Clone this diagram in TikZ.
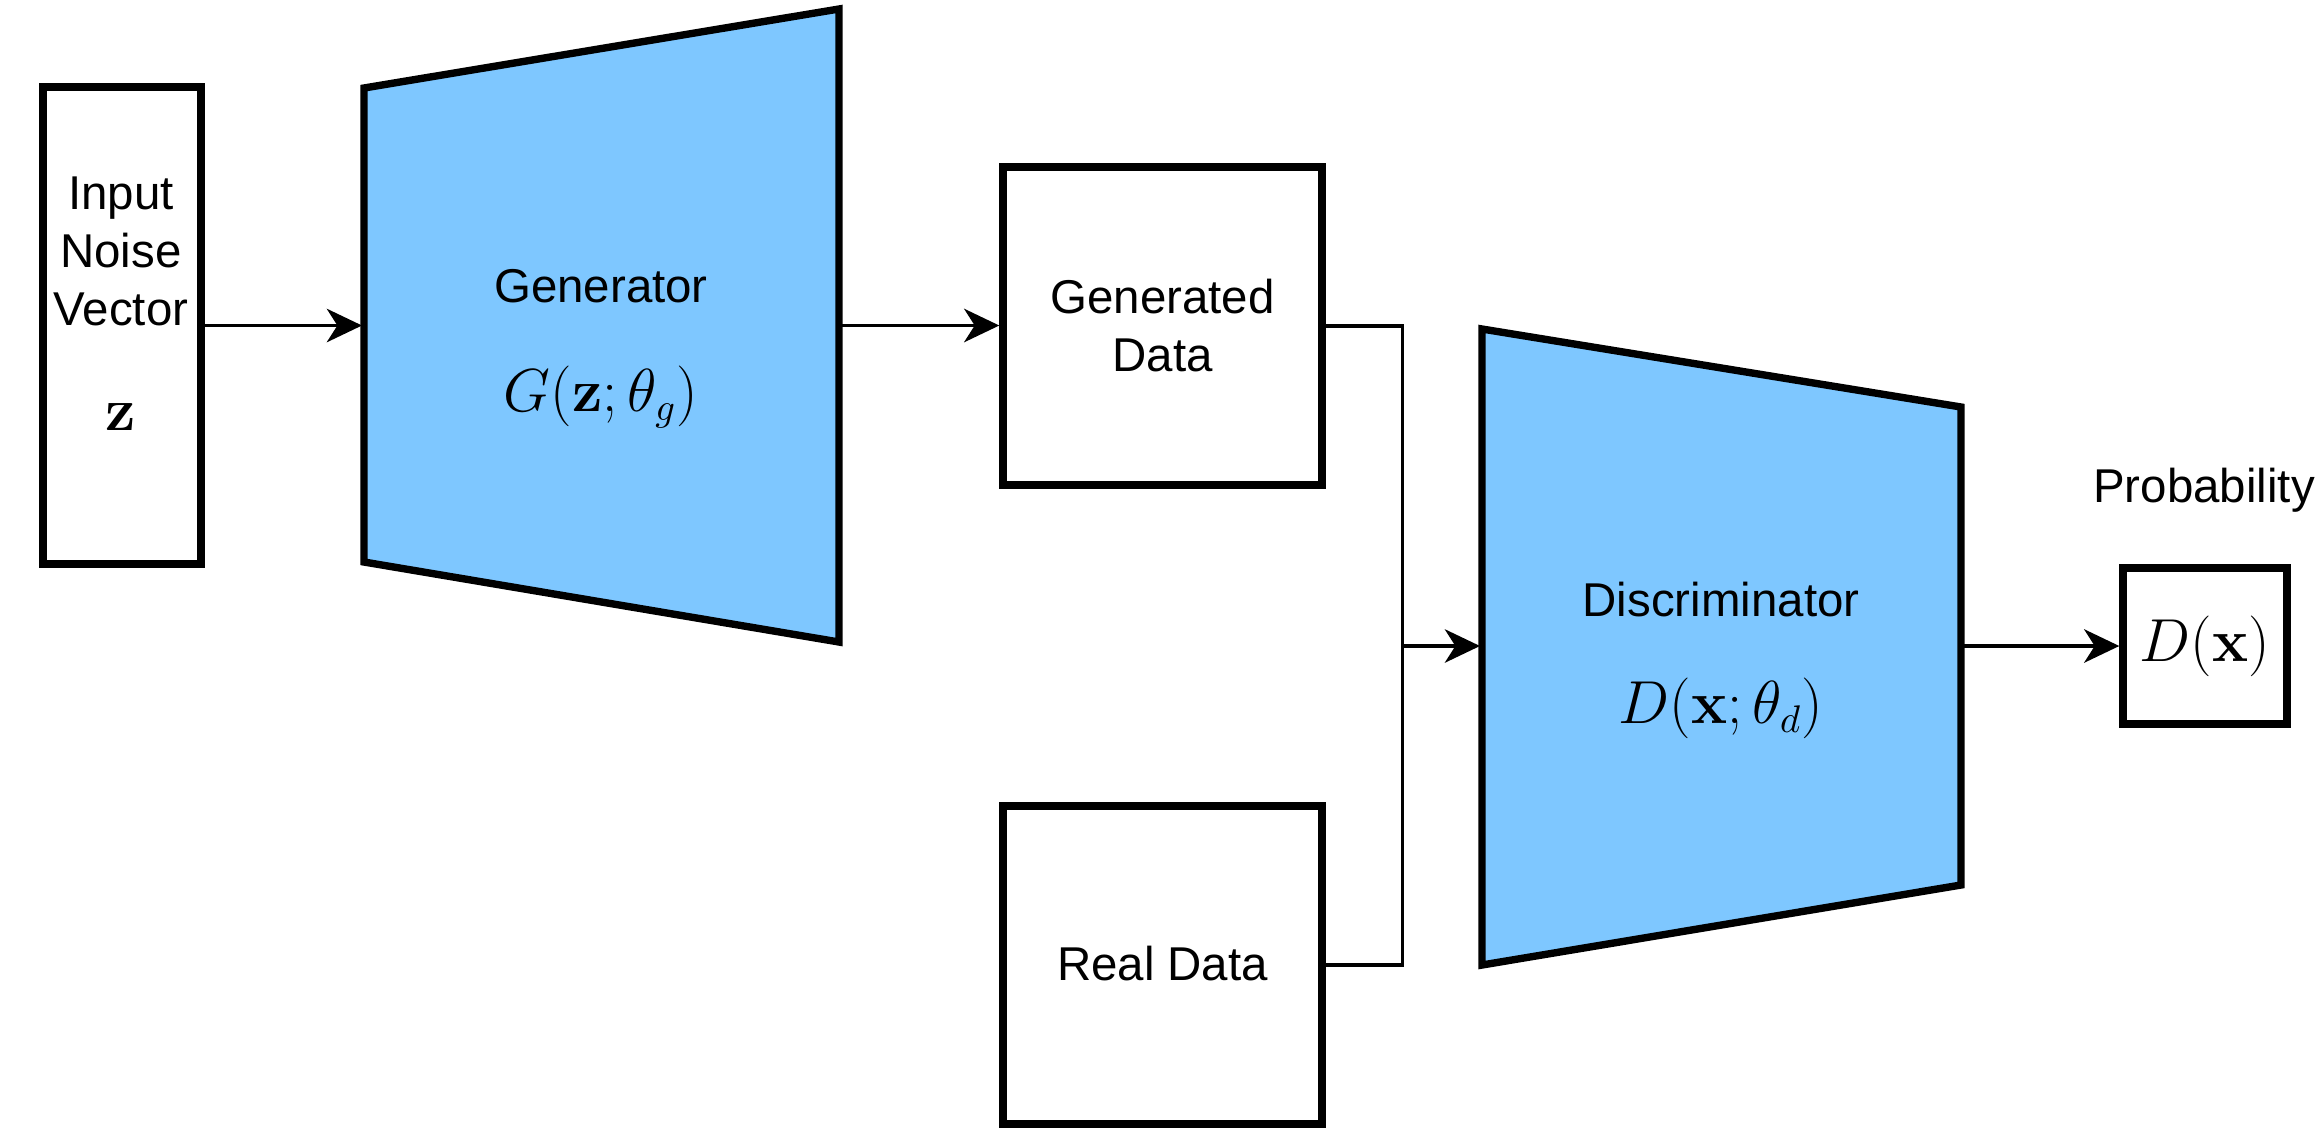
\documentclass[tikz,border=0pt]{standalone}
\usepackage{amsmath}
\usepackage[no-math]{fontspec}
\setmainfont{Liberation Sans}
\usepackage{tikz}
\usetikzlibrary{arrows.meta}

\definecolor{netblue}{RGB}{126,199,255}

\begin{document}
\begin{tikzpicture}[
  box/.style={draw, line width=2.1pt, inner sep=0pt},
  net/.style={draw, line width=2.1pt, fill=netblue, line join=miter},
  conn/.style={line width=1.1pt, -{Stealth[length=10pt, width=9.5pt, inset=3pt]}},
  wire/.style={line width=1.1pt},
  lbl/.style={font=\fontsize{13.5}{16.5}\selectfont, align=center},
  mth/.style={font=\fontsize{16}{19}\selectfont}]

\useasboundingbox (0,0) rectangle (23.2,-11.28);

\node [box, minimum width=1.58cm, minimum height=4.77cm] (noise) at (1.22,-3.255) {};
\node [lbl] (noisetxt) at (1.21,-2.51) {Input\\Noise\\Vector};
\node [mth] (z) at (1.21,-4.17) {$\mathbf{z}$};

\draw[net] (3.64,-0.88) to (8.39,-0.09) to (8.39,-6.42) to (3.64,-5.62) to cycle;
\coordinate (gen-w) at (3.62,-3.255);
\coordinate (gen-e) at (8.39,-3.255);
\node [lbl] (gentxt) at (6.01,-2.86) {Generator};
\node [mth] (genfn) at (6.01,-3.97) {$G(\mathbf{z};\theta_g)$};

\node [box, minimum width=3.19cm, minimum height=3.18cm] (gendata) at (11.625,-3.26) {};
\node [lbl] (gendatatxt) at (11.625,-3.26) {Generated\\Data};
\node [box, minimum width=3.19cm, minimum height=3.18cm] (realdata) at (11.625,-9.65) {};
\node [lbl] (realdatatxt) at (11.625,-9.64) {Real Data};

\draw[net] (14.82,-3.29) to (19.61,-4.07) to (19.61,-8.85) to (14.82,-9.65) to cycle;
\coordinate (disc-w) at (14.80,-6.46);
\coordinate (disc-e) at (19.61,-6.46);
\coordinate (merge) at (14.025,-6.46);
\node [lbl] (disctxt) at (17.21,-6.0) {Discriminator};
\node [mth] (discfn) at (17.21,-7.08) {$D(\mathbf{x};\theta_d)$};

\node [box, minimum width=1.64cm, minimum height=1.56cm, mth] (prob) at (22.05,-6.46) {$D(\mathbf{x})$};
\node [lbl] (probtxt) at (22.04,-4.9) {Probability};

\draw[conn] (noise.east |- gen-w) to (gen-w);
\draw[conn] (gen-e) to (gen-e -| gendata.west);
\draw[wire] (gendata.east) -| (merge);
\draw[wire] (realdata.east) -| (merge);
\draw[conn] (merge) to (disc-w);
\draw[conn] (disc-e) to (prob.west);

\end{tikzpicture}
\end{document}
